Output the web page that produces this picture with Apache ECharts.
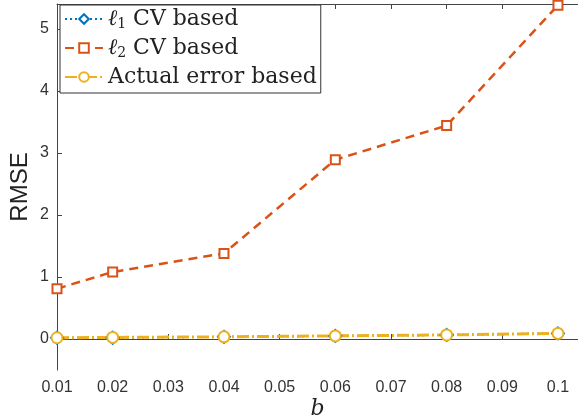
<!DOCTYPE html>
<html>
<head>
<meta charset="utf-8">
<script src="https://cdn.jsdelivr.net/npm/echarts@6/dist/echarts.min.js"></script>
<style>
html, body { margin: 0; padding: 0; background: #fff; }
#main { width: 578px; height: 418px; }
</style>
</head>
<body>
<div id="main"></div>
<script>
var bValues = [0.01, 0.02, 0.04, 0.06, 0.08, 0.1];
var l1CV = [0.02, 0.02, 0.035, 0.05, 0.065, 0.09];
var l2CV = [0.81, 1.08, 1.38, 2.89, 3.44, 5.38];
var actualErr = [0.02, 0.025, 0.035, 0.05, 0.065, 0.09];
var yTicks = [0, 1, 2, 3, 4, 5];

function pairs(vals) {
    return bValues.map(function (b, i) { return [b, vals[i]]; });
}

var myChart = echarts.init(document.getElementById('main'));

var serif = 'DejaVu Serif';

option = {
    backgroundColor: '#fff',
    animation: false,
    grid: {
        left: 57,
        right: 0,
        top: 4,
        bottom: 48,
        outerBoundsMode: 'none',
        containLabel: false
    },
    legend: {
        left: 60,
        top: 5,
        orient: 'vertical',
        itemGap: 6,
        itemWidth: 38,
        itemHeight: 12,
        padding: [3, 4, 5, 4],
        backgroundColor: '#fff',
        borderColor: '#333',
        borderWidth: 1,
        borderRadius: 0,
        data: ['l1', 'l2', 'actual'],
        formatter: function (name) {
            if (name === 'l1') return '{i|ℓ}{s|1} CV based';
            if (name === 'l2') return '{i|ℓ}{s|2} CV based';
            return 'Actual error based';
        },
        textStyle: {
            fontFamily: serif,
            fontSize: 22,
            color: '#222',
            rich: {
                i: { fontFamily: serif, fontStyle: 'italic', fontSize: 22, color: '#222' },
                s: { fontFamily: serif, fontSize: 14, color: '#222', padding: [10, 0, 0, 0] }
            }
        }
    },
    xAxis: [{
        type: 'value',
        min: 0.01,
        max: 0.1036,
        interval: 0.01,
        name: 'b',
        nameLocation: 'middle',
        nameGap: 28,
        nameMoveOverlap: false,
        nameTextStyle: { fontFamily: serif, fontStyle: 'italic', fontSize: 22, color: '#222' },
        axisLine: { lineStyle: { color: '#444', width: 1 } },
        axisTick: { inside: true, length: 5, lineStyle: { color: '#444' } },
        axisLabel: {
            color: '#333',
            fontFamily: 'Liberation Sans',
            fontSize: 16,
            margin: 10,
            showMaxLabel: false,
            formatter: function (v) { return String(Math.round(v * 100) / 100); }
        },
        splitLine: { show: false }
    }, {
        type: 'value',
        position: 'top',
        min: 0.01,
        max: 0.1036,
        interval: 0.01,
        axisLine: { show: true, onZero: false, lineStyle: { color: '#444', width: 1 } },
        axisTick: { show: true, inside: true, length: 5, lineStyle: { color: '#444' } },
        axisLabel: { show: false },
        splitLine: { show: false }
    }],
    yAxis: [{
        type: 'value',
        min: -0.5,
        max: 5.4,
        name: 'RMSE',
        nameLocation: 'middle',
        nameGap: 25,
        nameMoveOverlap: false,
        nameTextStyle: { fontFamily: 'Liberation Sans', fontSize: 24, color: '#222' },
        axisLine: { show: true, lineStyle: { color: '#444', width: 1 } },
        axisTick: { show: true, inside: true, length: 5, customValues: yTicks, lineStyle: { color: '#444' } },
        axisLabel: {
            color: '#333',
            fontFamily: 'Liberation Sans',
            fontSize: 16,
            margin: 8,
            customValues: yTicks
        },
        splitLine: { show: false }
    }],
    series: [{
        name: 'l1',
        type: 'line',
        data: pairs(l1CV),
        symbol: 'emptyDiamond',
        symbolSize: 12,
        lineStyle: { color: '#0072BD', width: 2, type: [2, 3] },
        itemStyle: { color: '#0072BD', borderWidth: 2 }
    }, {
        name: 'l2',
        type: 'line',
        data: pairs(l2CV),
        symbol: 'emptyRect',
        symbolSize: 9,
        lineStyle: { color: '#D95319', width: 2.5, type: [9, 6] },
        itemStyle: { color: '#D95319', borderWidth: 1.5 }
    }, {
        name: 'actual',
        type: 'line',
        data: pairs(actualErr),
        symbol: 'emptyCircle',
        symbolSize: 11,
        lineStyle: { color: '#EDB120', width: 3, type: [12, 3, 2, 3] },
        itemStyle: { color: '#EDB120', borderWidth: 3 }
    }]
};

myChart.setOption(option);
</script>
</body>
</html>
